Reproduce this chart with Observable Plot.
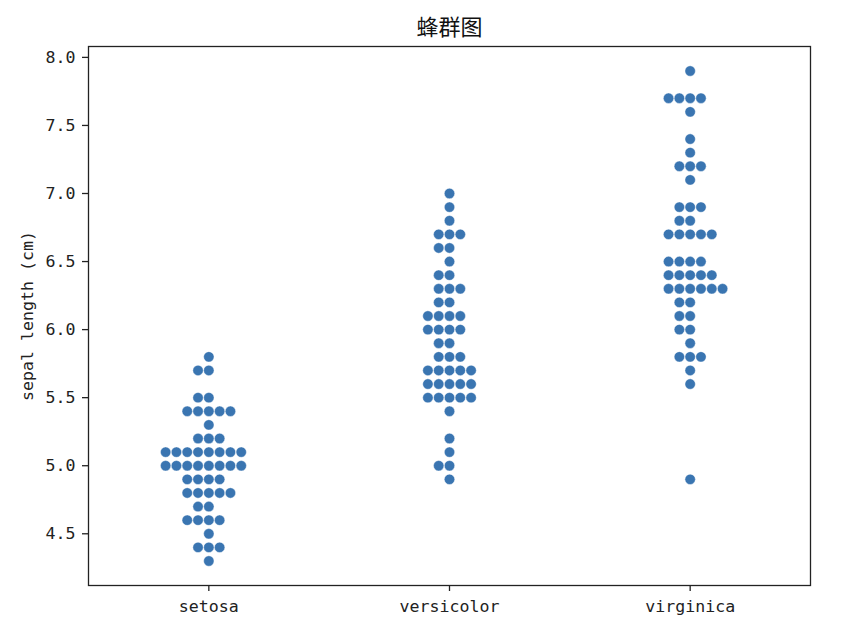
<!DOCTYPE html>
<html>
<head>
<meta charset="utf-8">
<script src="https://cdn.jsdelivr.net/npm/d3@7"></script>
<script src="https://cdn.jsdelivr.net/npm/@observablehq/plot@0.6"></script>
<style>
  body { margin: 0; background: #fff; }
</style>
</head>
<body>
<div id="chart"></div>
<script>
// Iris sepal length (cm) per species
const species = ["setosa", "versicolor", "virginica"];
const setosa = [5.1,4.9,4.7,4.6,5.0,5.4,4.6,5.0,4.4,4.9,5.4,4.8,4.8,4.3,5.8,5.7,5.4,5.1,5.7,5.1,5.4,5.1,4.6,5.1,4.8,5.0,5.0,5.2,5.2,4.7,4.8,5.4,5.2,5.5,4.9,5.0,5.5,4.9,4.4,5.1,5.0,4.5,4.4,5.0,5.1,4.8,5.1,4.6,5.3,5.0];
const versicolor = [7.0,6.4,6.9,5.5,6.5,5.7,6.3,4.9,6.6,5.2,5.0,5.9,6.0,6.1,5.6,6.7,5.6,5.8,6.2,5.6,5.9,6.1,6.3,6.1,6.4,6.6,6.8,6.7,6.0,5.7,5.5,5.5,5.8,6.0,5.4,6.0,6.7,6.3,5.6,5.5,5.5,6.1,5.8,5.0,5.6,5.7,5.7,6.2,5.1,5.7];
const virginica = [6.3,5.8,7.1,6.3,6.5,7.6,4.9,7.3,6.7,7.2,6.5,6.4,6.8,5.7,5.8,6.4,6.5,7.7,7.7,6.0,6.9,5.6,7.7,6.3,6.7,7.2,6.2,6.1,6.4,7.2,7.4,7.9,6.4,6.3,6.1,7.7,6.3,6.4,6.0,6.9,6.7,6.9,5.8,6.8,6.7,6.7,6.3,6.5,6.2,5.9];
const yTicks = [4.5, 5.0, 5.5, 6.0, 6.5, 7.0, 7.5, 8.0];
const title = "蜂群图";
const yLabel = "sepal length (cm)";

const W = 865, H = 641;
const mL = 88, mR = 55, mT = 46, mB = 56;
const pxPerUnit = (W - mL - mR) / 3;
const stepPx = 10.8;               // spacing between neighbouring dots in a row
const slotOrder = [0, -1, 1, -2, 2, 3, -3, -4, 4, -5, 5]; // swarm placement order

// swarm layout: spread tied values sideways around the category centre
const rows = [];
[setosa, versicolor, virginica].forEach((vals, si) => {
  const seen = new Map();
  vals.forEach(v => {
    const key = v.toFixed(1);
    const k = seen.get(key) || 0;
    seen.set(key, k + 1);
    rows.push({species: species[si], idx: si, value: v, pos: si + slotOrder[k] * stepPx / pxPerUnit});
  });
});

const chart = Plot.plot({
  width: W,
  height: H,
  marginLeft: mL,
  marginRight: mR,
  marginTop: mT,
  marginBottom: mB,
  style: {fontFamily: "'DejaVu Sans Mono', monospace", fontSize: "16px", color: "#222", background: "#fff"},
  x: {domain: [-0.5, 2.5], axis: null},
  y: {domain: [4.12, 8.08], axis: null},
  marks: [
    Plot.axisX([0, 1, 2], {
      tickFormat: i => species[i], tickSize: 6, tickPadding: 9, stroke: "#222", strokeWidth: 1.3,
      fontSize: 16.6, label: null
    }),
    Plot.axisY(yTicks, {
      tickFormat: d3.format(".1f"), tickSize: 6, tickPadding: 7, stroke: "#222", strokeWidth: 1.3,
      fontSize: 16.6, label: yLabel, labelAnchor: "center", labelOffset: 67, labelArrow: "none"
    }),
    Plot.dot(rows, {x: "pos", y: "value", r: 5.2, fill: "#3a75b1", stroke: "white", strokeWidth: 0.4}),
    Plot.frame({stroke: "#222", strokeWidth: 1.3}),
    Plot.text([title], {frameAnchor: "top", dy: -27, fontSize: 22, fontFamily: "'Noto Sans CJK SC', sans-serif", fill: "#111"})
  ]
});
document.getElementById("chart").appendChild(chart);
</script>
</body>
</html>
